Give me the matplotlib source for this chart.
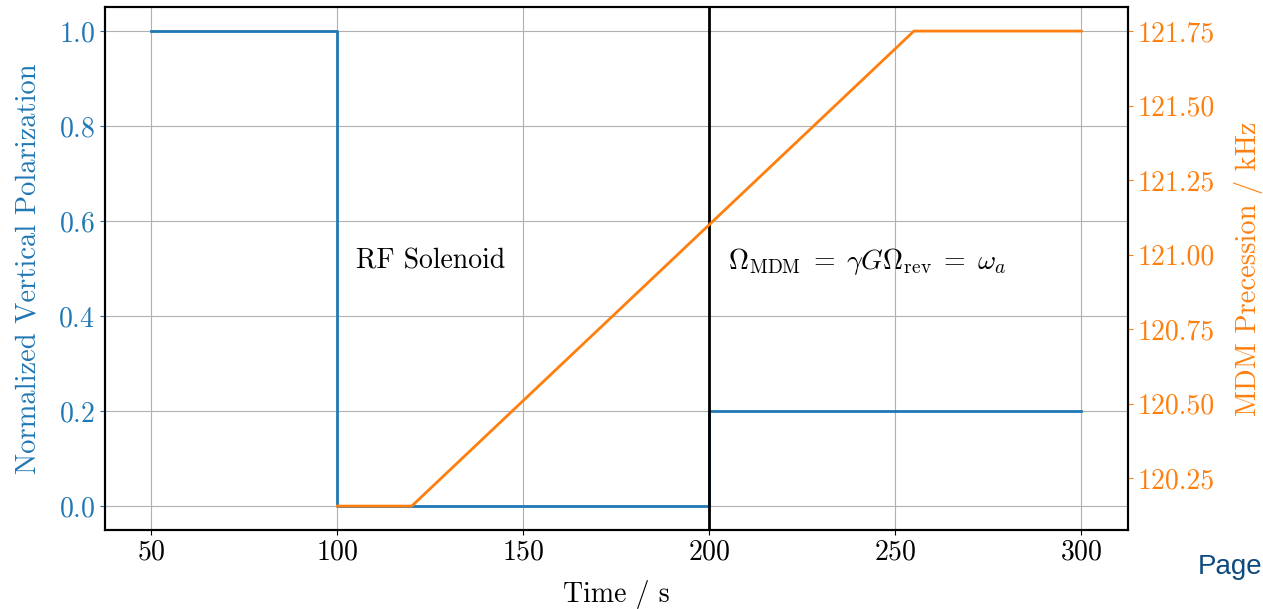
import numpy as np
import matplotlib
matplotlib.use("Agg")
import matplotlib.pyplot as plt

plt.rcParams["font.family"] = "serif"
plt.rcParams["font.serif"] = ["cmr10"]
plt.rcParams["mathtext.fontset"] = "cm"
plt.rcParams["axes.formatter.use_mathtext"] = True
plt.rcParams["font.size"] = 20

# polarization: spin flipped off by the RF solenoid, partly rebuilt at resonance
t_pol = [50, 100, 100, 200, 200, 300]
pol = [1.0, 1.0, 0.0, 0.0, 0.2, 0.2]

# MDM precession frequency sweep (kHz)
t_freq = [100, 120, 255, 300]
freq = [120.156, 120.156, 121.75, 121.75]

t_resonance = 200

blue = "#1f77b4"
orange = "#ff7f0e"

fig, ax = plt.subplots(figsize=(12.63, 6.09), dpi=100)
fig.subplots_adjust(left=0.083, right=0.893, bottom=0.13, top=0.988)

ax.plot(t_pol, pol, color=blue, lw=2)
ax.axvline(t_resonance, color="black", lw=2)
ax.set_xlabel("Time / s", labelpad=10)
ax.set_ylabel("Normalized Vertical Polarization", color=blue, fontsize=20.5,
              labelpad=12)
ax.tick_params(axis="y", colors=blue)
ax.set_xticks([50, 100, 150, 200, 250, 300])
ax.grid(True, color="#b0b0b0")

ax.text(105, 0.5, "RF Solenoid")
ax.text(205, 0.5, r"$\Omega_{\mathrm{MDM}}\;=\;\gamma G \Omega_{\mathrm{rev}}\;=\;\omega_a$")

ax2 = ax.twinx()
ax2.plot(t_freq, freq, color=orange, lw=2)
ax2.set_ylabel("MDM Precession / kHz", color=orange, fontsize=20.5, labelpad=14)
ax2.tick_params(axis="y", colors=orange)
ax2.set_yticks([120.25, 120.5, 120.75, 121.0, 121.25, 121.5, 121.75])
ax2.yaxis.set_major_formatter(plt.FormatStrFormatter("%.2f"))

for a in (ax, ax2):
    for s in a.spines.values():
        s.set_linewidth(1.5)

fig.text(0.948, 0.058, "Page", color="#0d4a7e", family="Liberation Sans", fontsize=20)

fig.savefig("out.png", dpi=100)
